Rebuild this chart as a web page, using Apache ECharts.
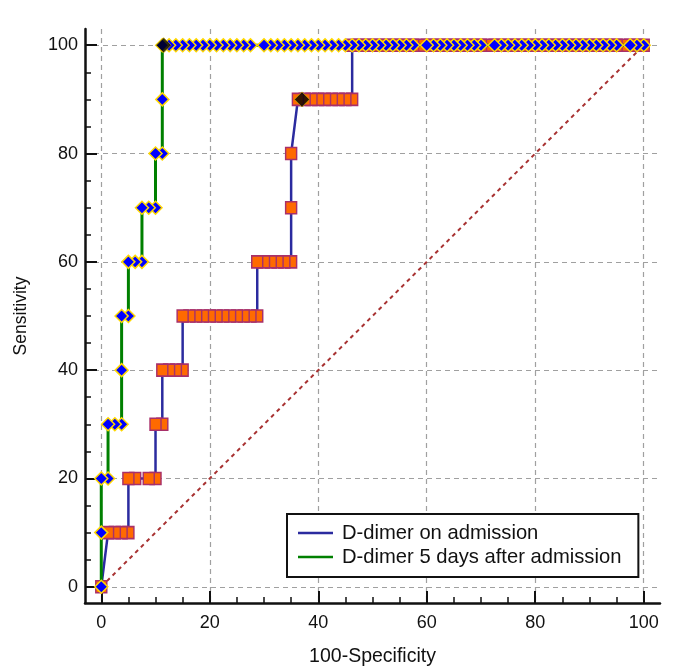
<!DOCTYPE html>
<html><head><meta charset="utf-8">
<script src="https://cdn.jsdelivr.net/npm/echarts@6/dist/echarts.min.js"></script>
<style>html,body{margin:0;padding:0;background:#fff}#c{width:684px;height:672px}</style>
</head><body><div id="c"></div>
<script>
// ---- data ----
const tickValues = [0, 20, 40, 60, 80, 100];

// D-dimer on admission (ROC points, 100-Specificity vs Sensitivity)
const blueX = [0, 1.25, 2.5, 3.75, 5, 5, 6.25, 8.75, 10, 10, 11.25, 11.25, 12.5, 13.75, 15,
  15, 16.25, 17.5, 18.75, 20, 21.25, 22.5, 23.75, 25, 26.25, 27.5, 28.75,
  28.75, 30, 31.25, 32.5, 33.75, 35, 35, 35,
  36.25, 37.5, 38.75, 40, 41.25, 42.5, 43.75, 45, 46.25,
  46.25, 47.5, 48.75, 50, 51.25, 52.5, 53.75, 55, 56.25, 57.5, 58.75, 60, 61.25, 62.5, 63.75,
  65, 66.25, 67.5, 68.75, 70, 71.25, 72.5, 73.75, 75, 76.25, 77.5, 78.75, 80, 81.25, 82.5,
  83.75, 85, 86.25, 87.5, 88.75, 90, 91.25, 92.5, 93.75, 95, 96.25, 97.5, 98.75, 100];
const blueY = [0, 10, 10, 10, 10, 20, 20, 20, 20, 30, 30, 40, 40, 40, 40,
  50, 50, 50, 50, 50, 50, 50, 50, 50, 50, 50, 50,
  60, 60, 60, 60, 60, 60, 70, 80,
  90, 90, 90, 90, 90, 90, 90, 90, 90,
  100, 100, 100, 100, 100, 100, 100, 100, 100, 100, 100, 100, 100, 100, 100,
  100, 100, 100, 100, 100, 100, 100, 100, 100, 100, 100, 100, 100, 100, 100,
  100, 100, 100, 100, 100, 100, 100, 100, 100, 100, 100, 100, 100, 100];

// D-dimer 5 days after admission
const greenX = [0, 0, 0, 1.25, 1.25, 2.5, 3.75, 3.75, 3.75, 5, 5, 6.25, 7.5, 7.5, 8.75, 10, 10, 11.25, 11.25,
  11.25, 12.5, 13.75, 15, 16.25, 17.5, 18.75, 20, 21.25, 22.5, 23.75, 25, 26.25, 27.5,
  30, 31.25, 32.5, 33.75, 35, 36.25, 37.5, 38.75, 40, 41.25, 42.5, 43.75, 45, 46.25, 47.5,
  48.75, 50, 51.25, 52.5, 53.75, 55, 56.25, 57.5, 60, 61.25, 62.5, 63.75, 65, 66.25, 67.5,
  68.75, 70, 72.5, 73.75, 75, 76.25, 77.5, 78.75, 80, 81.25, 82.5, 83.75, 85, 86.25, 87.5,
  88.75, 90, 91.25, 92.5, 93.75, 95, 97.5, 98.75, 100];
const greenY = [0, 10, 20, 20, 30, 30, 30, 40, 50, 50, 60, 60, 60, 70, 70, 70, 80, 80, 90,
  100, 100, 100, 100, 100, 100, 100, 100, 100, 100, 100, 100, 100, 100,
  100, 100, 100, 100, 100, 100, 100, 100, 100, 100, 100, 100, 100, 100, 100,
  100, 100, 100, 100, 100, 100, 100, 100, 100, 100, 100, 100, 100, 100, 100,
  100, 100, 100, 100, 100, 100, 100, 100, 100, 100, 100, 100, 100, 100, 100,
  100, 100, 100, 100, 100, 100, 100, 100, 100];

// optimal criterion points (black diamonds)
const cutPoints = [[37, 90], [11.5, 100]];
// reference diagonal
const diagonal = [[0, 0], [100, 100]];

const seriesNames = ['D-dimer on admission', 'D-dimer 5 days after admission'];

// ---- chart ----
function pairs(xs, ys) { return xs.map((x, i) => [x, ys[i]]).reverse(); }
const font = '"Liberation Sans", Arial, sans-serif';
const ink = '#111';

function makeAxis(name, nameGap, nameSize, labelMargin) {
  return {
    type: 'value', min: -3, max: 103, splitNumber: 5,
    name: name, nameLocation: 'middle', nameGap: nameGap,
    nameTextStyle: { fontSize: nameSize, color: ink, fontFamily: font },
    axisLine: { show: true, onZero: false, lineStyle: { color: ink, width: 2.5 } },
    axisTick: { show: true, inside: true, length: 12, customValues: tickValues,
      lineStyle: { color: ink, width: 2 } },
    minorTick: { show: true, splitNumber: 4, length: 6, lineStyle: { color: ink, width: 1.5 } },
    axisLabel: { customValues: tickValues, fontSize: 18, color: ink, fontFamily: font, margin: labelMargin },
    splitLine: { show: true, lineStyle: { color: '#a0a0a0', type: [5, 4], width: 1.2 } },
    minorSplitLine: { show: false }
  };
}

const chart = echarts.init(document.getElementById('c'));
chart.setOption({
  animation: false,
  backgroundColor: '#fff',
  grid: { left: 85, right: 24, top: 29, bottom: 69 },
  xAxis: makeAxis('100-Specificity', 44, 19.5, 11),
  yAxis: makeAxis('Sensitivity', 55, 17.5, 7),
  legend: {
    left: 287, top: 514, orient: 'vertical', selectedMode: false,
    backgroundColor: '#fff', borderColor: ink, borderWidth: 2,
    padding: [9, 17, 10, 11], itemGap: 4, itemWidth: 35, itemHeight: 2.5,
    textStyle: { fontSize: 20.2, color: ink, fontFamily: font, padding: [0, 0, 0, 4] },
    data: [
      { name: seriesNames[0], icon: 'rect', itemStyle: { color: '#2b2b9f', borderWidth: 0 } },
      { name: seriesNames[1], icon: 'rect', itemStyle: { color: '#008000', borderWidth: 0 } }
    ]
  },
  series: [
    { type: 'line', data: diagonal, symbol: 'none', silent: true, z: 1,
      lineStyle: { color: '#a83232', width: 2, type: [4, 4] } },
    { name: seriesNames[0], type: 'line', data: pairs(blueX, blueY), z: 3,
      symbol: 'rect', symbolSize: [11, 12], emphasis: { disabled: true },
      lineStyle: { color: '#2b2b9f', width: 2.5 },
      itemStyle: { color: '#ff6a00', borderColor: '#a8306a', borderWidth: 1.5 } },
    { name: seriesNames[1], type: 'line', data: pairs(greenX, greenY), z: 4,
      symbol: 'diamond', symbolSize: [13, 13], emphasis: { disabled: true },
      lineStyle: { color: '#008000', width: 3 },
      itemStyle: { color: '#0000ff', borderColor: '#ffd800', borderWidth: 1.5 } },
    { type: 'scatter', data: cutPoints, z: 5, symbol: 'diamond', symbolSize: 15, silent: true,
      itemStyle: { color: '#000', borderColor: '#b8a000', borderWidth: 1 } }
  ]
});
</script>
</body></html>
